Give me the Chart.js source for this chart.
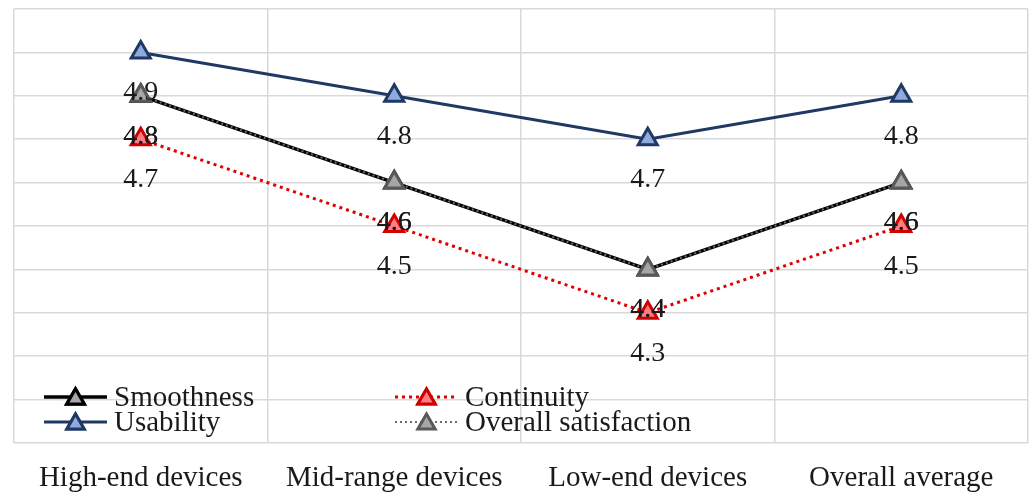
<!DOCTYPE html>
<html lang="en">
<head>
    <meta charset="UTF-8">
    <title>Device Experience Ratings</title>
    <script src="https://cdn.jsdelivr.net/npm/chart.js"></script>
    <style>
        body {
            margin: 0;
            padding: 0;
            background-color: #ffffff;
        }
        .chart-container {
            width: 1032px;
            height: 493px;
        }
    </style>
</head>
<body>
    <div class="chart-container">
        <canvas id="ratingChart"></canvas>
    </div>

    <script>
        // Chart data
        var categories = ["High-end devices", "Mid-range devices", "Low-end devices", "Overall average"];
        var smoothness = [4.8, 4.6, 4.4, 4.6];
        var continuity = [4.7, 4.5, 4.3, 4.5];
        var usability = [4.9, 4.8, 4.7, 4.8];
        var overallSatisfaction = [4.8, 4.6, 4.4, 4.6];
        var yMin = 4.0, yMax = 5.0, yStep = 0.1;

        var serif = "'Liberation Serif', 'Times New Roman', serif";
        var gridColor = "#d9d9d9";

        // Value labels drawn a bit under each point
        var valueLabels = {
            id: "valueLabels",
            afterDatasetsDraw: function (chart) {
                var ctx = chart.ctx;
                var yScale = chart.scales.y;
                var step = yScale.getPixelForValue(yMin) - yScale.getPixelForValue(yMin + yStep);
                ctx.save();
                ctx.font = "28px " + serif;
                ctx.fillStyle = "#1a1a1a";
                ctx.textAlign = "center";
                ctx.textBaseline = "middle";
                chart.data.datasets.forEach(function (ds, i) {
                    var meta = chart.getDatasetMeta(i);
                    meta.data.forEach(function (pt, j) {
                        ctx.fillText(ds.data[j].toFixed(1), pt.x, pt.y + step * 0.93);
                    });
                });
                ctx.restore();
            }
        };

        // Two column legend drawn inside the plot area (bottom left)
        var insideLegend = {
            id: "insideLegend",
            afterDraw: function (chart) {
                var ctx = chart.ctx;
                var area = chart.chartArea;
                var items = [
                    { idx: 0, col: 0, row: 0 },
                    { idx: 1, col: 1, row: 0 },
                    { idx: 2, col: 0, row: 1 },
                    { idx: 3, col: 1, row: 1 }
                ];
                var cols = [30, 381];
                var rows = [46, 21];
                ctx.save();
                items.forEach(function (it) {
                    var ds = chart.data.datasets[it.idx];
                    var x0 = area.left + cols[it.col];
                    var y = area.bottom - rows[it.row];
                    var x1 = x0 + 63;
                    ctx.beginPath();
                    ctx.setLineDash(ds.borderDash || []);
                    ctx.lineWidth = ds.borderWidth;
                    ctx.strokeStyle = ds.borderColor;
                    ctx.moveTo(x0, y);
                    ctx.lineTo(x1, y);
                    ctx.stroke();
                    ctx.setLineDash([]);
                    Chart.helpers.drawPoint(ctx, {
                        pointStyle: "triangle",
                        radius: 10,
                        borderWidth: ds.pointBorderWidth,
                        rotation: 0
                    }, (x0 + x1) / 2, y + 2);
                    ctx.fillStyle = ds.pointBackgroundColor;
                    ctx.strokeStyle = ds.pointBorderColor;
                    ctx.lineWidth = ds.pointBorderWidth;
                    ctx.fill();
                    ctx.stroke();
                    ctx.font = "29px " + serif;
                    ctx.fillStyle = "#1a1a1a";
                    ctx.textAlign = "left";
                    ctx.textBaseline = "middle";
                    ctx.fillText(ds.label, x1 + 7, y + 1);
                });
                ctx.restore();
            }
        };

        var ctx = document.getElementById("ratingChart").getContext("2d");
        var ratingChart = new Chart(ctx, {
            type: "line",
            data: {
                labels: categories,
                datasets: [
                    {
                        label: "Smoothness",
                        data: smoothness,
                        borderColor: "#000000",
                        borderWidth: 3.5,
                        pointStyle: "triangle",
                        pointRadius: 11,
                        pointBorderWidth: 3,
                        pointBackgroundColor: "#a6a6a6",
                        pointBorderColor: "#000000",
                        order: 1
                    },
                    {
                        label: "Continuity",
                        data: continuity,
                        borderColor: "#e00000",
                        borderWidth: 3,
                        borderDash: [3, 4],
                        pointStyle: "triangle",
                        pointRadius: 11,
                        pointBorderWidth: 3,
                        pointBackgroundColor: "#ff7c80",
                        pointBorderColor: "#d00000",
                        order: 2
                    },
                    {
                        label: "Usability",
                        data: usability,
                        borderColor: "#1f3864",
                        borderWidth: 3,
                        pointStyle: "triangle",
                        pointRadius: 11,
                        pointBorderWidth: 3,
                        pointBackgroundColor: "#8faadc",
                        pointBorderColor: "#1f3864",
                        order: 3
                    },
                    {
                        label: "Overall satisfaction",
                        data: overallSatisfaction,
                        borderColor: "#6b6b6b",
                        borderWidth: 2,
                        borderDash: [2, 3],
                        pointStyle: "triangle",
                        pointRadius: 11,
                        pointBorderWidth: 3,
                        pointBackgroundColor: "#a6a6a6",
                        pointBorderColor: "#595959",
                        order: 0
                    }
                ]
            },
            options: {
                responsive: true,
                maintainAspectRatio: false,
                animation: false,
                layout: {
                    autoPadding: false,
                    padding: { left: 14, top: 9, right: 4, bottom: 0 }
                },
                plugins: {
                    legend: { display: false },
                    tooltip: { enabled: false }
                },
                scales: {
                    x: {
                        offset: true,
                        grid: {
                            offset: true,
                            color: gridColor,
                            lineWidth: 1.5,
                            drawTicks: false
                        },
                        border: { display: false },
                        ticks: {
                            padding: 18,
                            color: "#1a1a1a",
                            maxRotation: 0,
                            font: { family: serif, size: 29 }
                        },
                        afterFit: function (scale) {
                            scale.height = 50;
                        }
                    },
                    y: {
                        min: yMin,
                        max: yMax,
                        grid: {
                            color: gridColor,
                            lineWidth: 1.5,
                            drawTicks: false
                        },
                        border: { display: false },
                        ticks: {
                            display: false,
                            stepSize: yStep
                        },
                        afterFit: function (scale) {
                            scale.width = 0;
                        }
                    }
                }
            },
            plugins: [valueLabels, insideLegend]
        });
    </script>
</body>
</html>
